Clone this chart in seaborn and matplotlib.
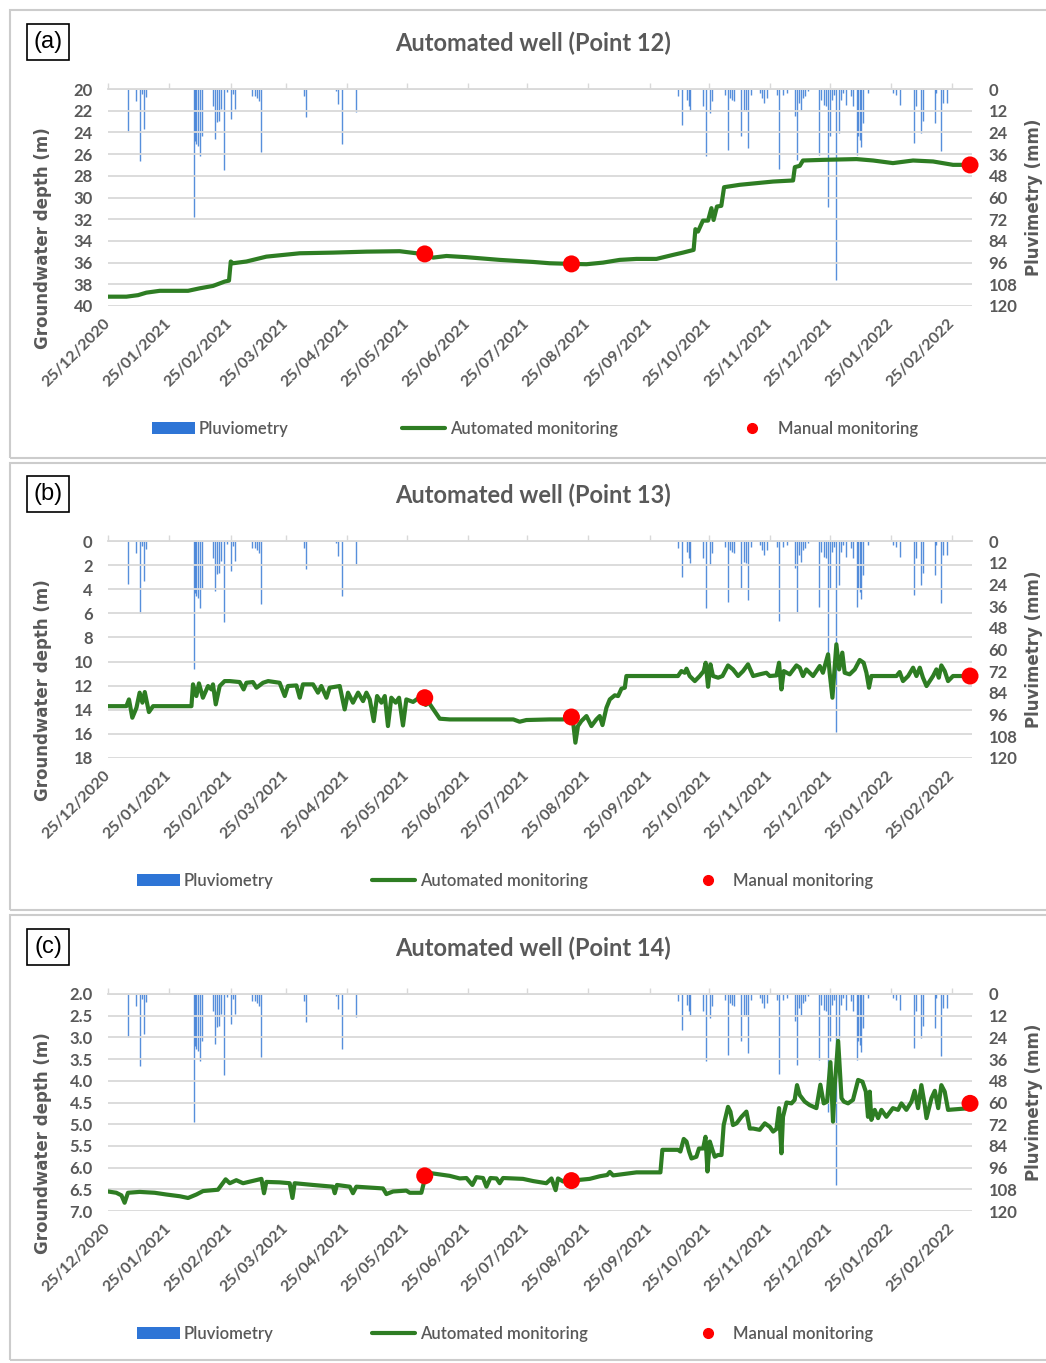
import numpy as np
import pandas as pd
import matplotlib
matplotlib.use('Agg')
import matplotlib.pyplot as plt
import matplotlib.dates as mdates
from matplotlib.lines import Line2D
from matplotlib.patches import Patch, Rectangle
import seaborn as sns

# Day offsets are counted from the first axis date, 25/12/2020
START = pd.Timestamp('2020-12-25')

# Daily rainfall (mm), same station for the three wells
rain_days = [10.1, 14.4, 16.4, 17.2, 18.4, 19.4,
             43.3, 44.0, 44.7, 45.5, 46.4, 47.4,
             53.1, 54.1, 55.1, 56.1, 57.4, 58.5, 60.2, 62.4, 63.2, 64.2,
             72.8, 74.2, 75.4, 76.4, 77.6,
             99.2, 100.2, 115.5, 116.2, 118.4, 125.3,
             288.3, 290.5, 292.6, 293.7, 294.6, 300.7, 302.7, 304.4, 305.5,
             312.0, 313.6, 314.8, 315.8, 316.6, 320.4, 321.6, 322.6, 323.6, 325.1,
             329.6, 331.0, 331.7, 333.5, 338.6, 339.4, 341.4, 343.4,
             347.5, 348.5, 349.5, 350.5, 351.5, 352.6, 353.8,
             359.5, 360.8, 362.0, 363.4, 364.4, 365.4, 366.4, 367.4, 368.4, 369.5, 370.6, 371.8, 373.1,
             375.9, 377.0, 378.6, 379.4, 380.2, 381.1, 381.9, 384.4,
             397.0, 398.4, 400.4, 407.5, 408.9, 411.4, 412.2, 418.2, 419.0, 421.5, 422.3, 424.4]
rain_mm = [23.6, 6.5, 40.0, 2.8, 22.0, 4.6,
           71.0, 28.6, 30.5, 31.4, 37.0, 25.9,
           9.2, 27.7, 18.5, 17.6, 11.1, 44.9, 1.5, 16.6, 2.8, 11.1,
           4.1, 3.7, 5.2, 6.5, 35.1,
           3.7, 15.3, 0.9, 8.3, 30.5, 12.9,
           4.1, 19.8, 5.9, 9.6, 12.4, 9.6, 37.3, 13.3, 6.9,
           3.2, 33.6, 5.0, 5.9, 6.9, 26.2, 11.5, 12.4, 32.7, 3.2,
           2.2, 5.0, 7.8, 5.0, 3.2, 44.3, 3.2, 2.2,
           15.2, 39.1, 7.8, 11.5, 5.0, 4.1, 1.3,
           36.4, 5.9, 8.7, 9.6, 65.0, 26.2, 5.9, 3.2, 105.6, 24.4, 5.9, 2.2, 8.7,
           4.1, 9.6, 36.4, 26.2, 28.1, 31.8, 18.8, 2.2,
           2.2, 3.2, 8.7, 29.9, 9.6, 24.4, 17.9, 18.8, 2.2, 34.5, 7.8, 7.8]

# Automated monitoring, Point 12 (depth in m)
p12_days = [0, 9.3, 15.2, 19.4, 26.2, 40.5, 46.4, 53.1, 59, 61.2,
            62.1, 63.2, 70, 80.1, 97, 113.8, 130.7, 147.5, 156, 160.2,
            164.4, 171.2, 181.3, 198.1, 215, 223.4, 234.4, 242, 250.4, 258.8,
            267.3, 277.4, 285.8, 290.8, 296.2, 297.1, 298.4, 300.9, 303.5, 305.2,
            306.3, 308, 310.2, 311.6, 319.5, 336.4, 346.5, 347.4, 349.9, 351.5,
            361.7, 378.6, 387, 397, 407.2, 417.3, 427.4, 436]
p12_depth = [39.14, 39.14, 39.0, 38.77, 38.6, 38.6, 38.37, 38.15, 37.75, 37.66,
             35.9, 36.06, 35.9, 35.45, 35.14, 35.08, 34.99, 34.95, 35.14, 35.2,
             35.54, 35.39, 35.5, 35.75, 35.94, 36.06, 36.12, 36.15, 36.0, 35.75,
             35.66, 35.66, 35.29, 35.08, 34.83, 32.92, 33.14, 32.13, 32.13, 30.98,
             32.07, 30.83, 30.77, 29.05, 28.83, 28.53, 28.43, 27.2, 27.08, 26.59,
             26.53, 26.46, 26.59, 26.83, 26.59, 26.68, 26.99, 26.99]

# Automated monitoring, Point 13
p13_days = [0, 9.3, 10.6, 12.3, 14.4, 16, 17.4, 18.6, 20.7, 22.8,
            42.2, 43, 44.7, 46, 48, 50.6, 52.3, 53.1, 54.5, 56.5,
            59, 61.6, 66.6, 68.6, 70, 73.3, 75.1, 78.4, 81, 86.8,
            89.4, 91, 95.3, 97, 98.6, 103.7, 106.2, 107.9, 110.5, 112.1,
            117.2, 119.7, 121.4, 123.9, 126.5, 129, 130.7, 132.4, 134.4, 136.1,
            138.3, 140, 141.6, 143.3, 145.5, 147.2, 149.2, 150.9, 154.3, 158.5,
            160.7, 162.3, 164, 167.8, 172.8, 205, 208.2, 211.6, 223.4, 230.2,
            234.4, 235.2, 236.4, 237.7, 239.4, 242, 244.5, 247, 248.7, 250.1,
            252.1, 253.8, 256.3, 258, 259.7, 261.4, 262.2, 288.3, 290, 291.7,
            292.6, 294.2, 296.8, 299.3, 301.3, 302.3, 303.5, 304.7, 306, 308.6,
            310.8, 313.6, 316.1, 318.7, 321.2, 323.7, 326.3, 329.6, 333, 334.7,
            338.1, 339.4, 340.6, 341.8, 344.8, 348.2, 349.9, 351.5, 353.2, 356.6,
            360, 361.6, 364.2, 365, 366.4, 367.6, 368.4, 369.8, 371.4, 372.6,
            375.1, 377.7, 380.2, 382.2, 383.6, 384.9, 386.1, 398.8, 400.4, 402.1,
            404.7, 407.2, 408.9, 410.6, 412.2, 414, 417.3, 419, 420.2, 421.5,
            423.2, 424.9, 427.4, 436]
p13_depth = [13.7, 13.7, 13.14, 14.66, 13.83, 12.58, 13.41, 12.53, 14.19, 13.7,
             13.7, 11.89, 12.86, 11.81, 13.0, 12.03, 12.31, 11.89, 13.55, 12.03,
             11.62, 11.62, 11.7, 12.31, 11.76, 11.7, 12.17, 11.76, 11.62, 11.76,
             12.86, 12.03, 11.98, 13.0, 11.89, 11.89, 12.58, 12.03, 13.0, 12.17,
             12.03, 13.97, 12.58, 13.41, 12.58, 13.28, 12.58, 13.14, 14.94, 12.86,
             13.41, 12.86, 15.35, 13.0, 13.41, 13.0, 15.3, 13.14, 13.35, 12.86,
             13.6, 13.41, 13.83, 14.74, 14.8, 14.8, 14.99, 14.85, 14.8, 14.8,
             14.6, 14.94, 16.73, 15.35, 14.94, 14.52, 15.35, 14.8, 14.52, 15.27,
             13.83, 13.14, 12.8, 12.86, 12.25, 12.17, 11.2, 11.2, 10.79, 10.93,
             10.59, 11.2, 11.62, 11.2, 10.79, 10.1, 12.09, 10.23, 11.2, 11.34,
             11.2, 10.32, 10.65, 11.2, 10.79, 10.23, 11.2, 11.06, 10.93, 11.2,
             11.15, 10.1, 12.31, 10.79, 11.06, 10.32, 10.51, 11.2, 10.65, 11.2,
             10.37, 10.93, 9.4, 10.93, 13.0, 10.37, 8.57, 10.65, 9.26, 10.93,
             11.06, 10.65, 9.87, 10.1, 10.93, 12.17, 11.2, 11.2, 10.87, 11.62,
             11.2, 10.51, 11.2, 10.51, 11.34, 12.03, 11.2, 10.65, 11.34, 10.32,
             10.79, 11.62, 11.2, 11.2]

# Automated monitoring, Point 14
p14_days = [0, 4.2, 6.8, 8.4, 10.1, 16, 23.6, 29.5, 36.3, 40.5,
            44.7, 48.1, 55.6, 59.5, 61.6, 64.9, 68.3, 77.6, 78.9, 80.1,
            86.8, 91.9, 93.3, 94.4, 103.7, 113.8, 114.7, 115.8, 122.3, 123.9,
            125.6, 139.1, 140.8, 144.2, 150.9, 152.6, 158.5, 159.7, 160.2, 163.6,
            172.8, 177.9, 181.3, 184.3, 186.3, 189.7, 191.4, 193.4, 196.5, 198.1,
            199.8, 209.9, 215, 221.7, 224.3, 226.4, 227.6, 230.2, 234.4, 243.6,
            248.7, 252.5, 253.8, 255.5, 267.3, 279.4, 280.4, 288.3, 289.5, 291.2,
            292.6, 293.9, 295.1, 297.6, 298.9, 301, 302.2, 303.2, 304.4, 305.7,
            306.9, 308.5, 310.3, 311.4, 313.6, 314.8, 316.1, 317.9, 320.4, 322.9,
            324.6, 326.3, 329.6, 332.2, 334.7, 336.4, 338.1, 339.4, 340.6, 341.4,
            343.2, 345.7, 347.3, 348.5, 349.9, 352.4, 354.9, 358.3, 360.3, 362,
            363.7, 365.4, 366.7, 367.6, 369.3, 371, 372.2, 374.3, 376.8, 379.4,
            381.6, 383.3, 384.4, 385.3, 386.1, 387.8, 389.5, 391.2, 393.7, 397,
            399.6, 401.3, 403.8, 406.4, 408, 409.7, 411.4, 413.1, 414, 416.5,
            418.2, 419.9, 421.5, 423.2, 424.9, 436]
p14_depth = [6.55, 6.58, 6.64, 6.81, 6.58, 6.56, 6.58, 6.62, 6.66, 6.70,
             6.62, 6.54, 6.51, 6.27, 6.36, 6.29, 6.36, 6.26, 6.59, 6.33,
             6.34, 6.36, 6.70, 6.36, 6.40, 6.44, 6.59, 6.40, 6.44, 6.59,
             6.44, 6.48, 6.61, 6.55, 6.53, 6.58, 6.58, 6.36, 6.19, 6.13,
             6.19, 6.25, 6.24, 6.40, 6.22, 6.24, 6.44, 6.24, 6.25, 6.36,
             6.24, 6.26, 6.31, 6.36, 6.25, 6.52, 6.25, 6.32, 6.30, 6.26,
             6.20, 6.17, 6.10, 6.18, 6.11, 6.11, 5.59, 5.59, 5.63, 5.34,
             5.40, 5.63, 5.79, 5.75, 5.56, 5.56, 5.29, 6.09, 5.40, 5.59,
             5.75, 5.71, 5.71, 5.02, 4.60, 4.71, 5.02, 4.98, 4.83, 4.71,
             5.10, 5.10, 5.13, 4.98, 5.06, 5.17, 5.11, 4.63, 5.67, 4.83,
             4.50, 4.52, 4.44, 4.10, 4.33, 4.48, 4.56, 4.63, 4.09, 4.52,
             4.48, 3.57, 4.94, 4.10, 3.08, 4.40, 4.48, 4.52, 4.44, 3.98,
             4.02, 4.25, 4.83, 4.25, 4.90, 4.67, 4.86, 4.67, 4.83, 4.63,
             4.67, 4.52, 4.67, 4.48, 4.23, 4.63, 4.10, 4.56, 4.86, 4.40,
             4.23, 4.63, 4.10, 4.25, 4.67, 4.63]

# Manual monitoring campaigns
manual_days = [160.2, 234.4, 436]
p12_manual = [35.2, 36.12, 27.0]
p13_manual = [13.0, 14.6, 11.2]
p14_manual = [6.19, 6.30, 4.52]

titles = ['Automated well (Point 12)', 'Automated well (Point 13)', 'Automated well (Point 14)']
letters = ['(a)', '(b)', '(c)']
depth_ticks = [np.arange(20, 41, 2), np.arange(0, 19, 2), np.arange(2.0, 7.01, 0.5)]
rain_ticks = np.arange(0, 121, 12)

GREEN = '#2e7d23'
BLUE = '#3a7bd5'
GREY_TXT = '#595959'
GRID = '#d9d9d9'

sns.set_theme(style='white')
plt.rcParams['font.family'] = ['Lato', 'DejaVu Sans']

W, H = 1046, 1363
fig = plt.figure(figsize=(W / 100, H / 100), dpi=100)


def to_dates(days):
    return START + pd.to_timedelta(np.asarray(days, dtype=float), unit='D')


def add_axes_px(left, top, right, bottom):
    return fig.add_axes([left / W, 1 - bottom / H, (right - left) / W, (bottom - top) / H])


series = [(p12_days, p12_depth, p12_manual),
          (p13_days, p13_depth, p13_manual),
          (p14_days, p14_depth, p14_manual)]
plot_tops = [89, 541, 994]
frames = [(10, 458), (463, 910), (915, 1360)]
legend_cx = [535, 505, 505]
legend_sp = [6.8, 5.9, 5.9]

for i in range(3):
    top = plot_tops[i]
    days, depth, manual = series[i]

    # panel frame
    fy0, fy1 = frames[i]
    fig.add_artist(Rectangle((10 / W, 1 - fy1 / H), 1.0, (fy1 - fy0) / H,
                             transform=fig.transFigure, fill=False,
                             ec='#cccccc', lw=1.5))

    ax = add_axes_px(108, top, 972, top + 217)
    ax2 = ax.twinx()

    # rainfall hanging from the top on the secondary axis
    ax2.vlines(to_dates(rain_days), 0, rain_mm, color=BLUE, lw=1.0, alpha=0.85)
    ax2.set_ylim(120, 0)
    ax2.set_yticks(rain_ticks)
    ax2.set_yticklabels([str(v) for v in rain_ticks])

    sns.lineplot(x=to_dates(days), y=depth, ax=ax, color=GREEN, lw=3.0,
                 estimator=None, sort=False)
    sns.scatterplot(x=to_dates(manual_days), y=manual, ax=ax, color='#ff0000',
                    s=150, edgecolor='none', zorder=5, clip_on=False)
    ax.set_zorder(ax2.get_zorder() + 1)
    ax.patch.set_visible(False)

    yt = depth_ticks[i]
    ax.set_ylim(yt[-1], yt[0])
    ax.set_yticks(yt)
    if i == 2:
        ax.set_yticklabels([f'{v:.1f}' for v in yt])
    else:
        ax.set_yticklabels([f'{v:.0f}' for v in yt])
    ax.set_xlim(START, START + pd.Timedelta(days=437))
    ax.xaxis.set_major_locator(mdates.MonthLocator(bymonthday=25))
    ax.xaxis.set_major_formatter(mdates.DateFormatter('%d/%m/%Y'))

    ax.yaxis.grid(True, color=GRID, lw=1.3)
    ax.xaxis.grid(False)
    ax2.grid(False)
    for s in ['left', 'right', 'bottom']:
        ax.spines[s].set_visible(False)
    for s in ax2.spines:
        ax2.spines[s].set_visible(False)
    ax.spines['top'].set_color(GRID)
    ax.spines['top'].set_linewidth(1.3)

    ax.tick_params(axis='x', top=True, bottom=False, labeltop=False, labelbottom=True,
                   direction='out', length=4, width=1, color=GRID, pad=7,
                   labelsize=11.5, labelcolor=GREY_TXT)
    for lab in ax.get_xticklabels():
        lab.set_rotation(45)
        lab.set_ha('right')
        lab.set_va('center')
        lab.set_rotation_mode('anchor')
        lab.set_fontweight('bold')
    ax.tick_params(axis='y', left=False, right=False, length=0, pad=11,
                   labelsize=12, labelcolor=GREY_TXT)
    ax2.tick_params(axis='y', left=False, right=False, length=0, pad=12,
                    labelsize=12, labelcolor=GREY_TXT)
    for lab in ax.get_yticklabels() + ax2.get_yticklabels():
        lab.set_fontweight('bold')
    ax.set_xlabel('')
    ax.set_ylabel('')
    ax2.set_ylabel('')

    # titles and axis labels
    fig.text(533 / W, 1 - (top - 46) / H, titles[i], ha='center', va='center',
             fontsize=17, fontweight='bold', color=GREY_TXT)
    fig.text(48 / W, 1 - (top - 47) / H, letters[i], ha='center', va='center',
             fontsize=17, family='Liberation Sans', color='black',
             bbox=dict(boxstyle='square,pad=0.28', fc='white', ec='black', lw=1.2))
    fig.text(43 / W, 1 - (top + 149) / H, 'Groundwater depth (m)', rotation=90,
             ha='center', va='center', fontsize=12, fontweight='bold',
             family='DejaVu Sans', color=GREY_TXT)
    fig.text(1034 / W, 1 - (top + 108) / H, 'Pluvimetry (mm)', rotation=90,
             ha='center', va='center', fontsize=12, fontweight='bold',
             family='DejaVu Sans', color=GREY_TXT)

    handles = [Patch(fc='#2e75d6', ec='none'),
               Line2D([], [], color=GREEN, lw=3.0),
               Line2D([], [], marker='o', color='#ff0000', ls='none', ms=7)]
    fig.legend(handles, ['Pluviometry', 'Automated monitoring', 'Manual monitoring'],
               loc='center', bbox_to_anchor=(legend_cx[i] / W, 1 - (top + 340) / H),
               ncol=3, frameon=False, handlelength=2.6,
               prop={'size': 12, 'weight': 'semibold'},
               handletextpad=0.25, columnspacing=legend_sp[i], labelcolor=GREY_TXT)

fig.savefig('out.png', dpi=100)
